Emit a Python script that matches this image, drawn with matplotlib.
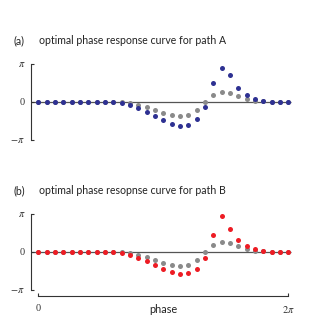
import numpy as np
import matplotlib
matplotlib.use("Agg")
import matplotlib.pyplot as plt

PI = np.pi
n_points = 31
phase = np.linspace(0, 2 * PI, n_points)

# values in units of pi
blue_a = [0, 0, 0, 0, 0, 0, 0, 0, 0, 0,
          -0.026, -0.087, -0.174, -0.26, -0.374, -0.478, -0.583, -0.643, -0.609, -0.461,
          -0.148, 0.496, 0.887, 0.696, 0.374, 0.183, 0.078, 0.026, 0, 0, 0]
red_b = [0, 0, 0, 0, 0, 0, 0, 0, 0, 0,
         -0.026, -0.087, -0.165, -0.235, -0.348, -0.452, -0.548, -0.591, -0.574, -0.452,
         -0.157, 0.435, 0.948, 0.6, 0.304, 0.148, 0.061, 0.017, 0, 0, 0]
gray_ref = [0, 0, 0, 0, 0, 0, 0, 0, 0, 0,
            -0.017, -0.043, -0.087, -0.148, -0.217, -0.287, -0.348, -0.374, -0.348, -0.226,
            -0.017, 0.174, 0.252, 0.226, 0.157, 0.07, 0.026, 0.009, 0, 0, 0]

titles = ["optimal phase response curve for path A", "optimal phase resopnse curve for path B"]
panel_labels = ["(a)", "(b)"]
ytick_labels = [r"$-\pi$", "0", r"$\pi$"]
xtick_labels = ["0", r"$2\pi$"]

BLUE = "#2e3192"
RED = "#ed1c24"
GRAY = "#8a8a8a"
SPINE = "#333333"

plt.rcParams["mathtext.fontset"] = "stix"

fig = plt.figure(figsize=(3.28, 3.28), dpi=100)
W = H = 328.0

def make_ax(top_px, bottom_px):
    left_px = 30.7
    right_px = 292.3
    return fig.add_axes([left_px / W, (H - bottom_px) / H,
                         (right_px - left_px) / W, (bottom_px - top_px) / H])

xlo, xhi = -0.19, 2 * PI + 0.1

axA = make_ax(101.7 - 1.1 * 37.8, 101.7 + 1.1 * 37.8)
axB = make_ax(251.7 - 1.1 * 37.8, 296.0)

for ax, vals, col, (ylo, yhi), bottom in [
    (axA, blue_a, BLUE, (-1.1 * PI, 1.1 * PI), False),
    (axB, red_b, RED, (-1.17 * PI, 1.1 * PI), True),
]:
    ax.set_xlim(xlo, xhi)
    ax.set_ylim(ylo, yhi)
    ax.hlines(0, xlo, 2 * PI + 0.06, color="#555555", lw=0.9, zorder=1)
    ax.plot(phase, np.array(gray_ref) * PI, "o", color=GRAY, ms=3.6, mec="none", zorder=2)
    ax.plot(phase, np.array(vals) * PI, "o", color=col, ms=3.6, mec="none", zorder=3)
    for s in ["top", "right"]:
        ax.spines[s].set_visible(False)
    ax.spines["left"].set_bounds(-PI, PI)
    ax.spines["left"].set_color(SPINE)
    ax.spines["left"].set_linewidth(0.8)
    ax.set_yticks([-PI, 0, PI])
    ax.set_yticklabels(ytick_labels, fontsize=7.5, family="Liberation Serif", color="#333333")
    ax.tick_params(axis="y", direction="in", length=2.4, width=0.8, color=SPINE, pad=4)
    if bottom:
        ax.spines["bottom"].set_bounds(0, 2 * PI)
        ax.spines["bottom"].set_color(SPINE)
        ax.spines["bottom"].set_linewidth(0.8)
        ax.set_xticks([0, 2 * PI])
        ax.set_xticklabels(xtick_labels, fontsize=7.5, family="Liberation Serif", color="#333333")
        ax.tick_params(axis="x", direction="in", length=2.4, width=0.8, color=SPINE, pad=5.5)
        ax.annotate("phase", xy=(PI, 0), xycoords=("data", "axes fraction"),
                    xytext=(0, -5.5), textcoords="offset points",
                    ha="center", va="top", fontsize=7.8, family="Lato", color="#222222")
    else:
        ax.spines["bottom"].set_visible(False)
        ax.set_xticks([])

for i, ypx in enumerate([41.0, 191.0]):
    fig.text(13 / W, 1 - ypx / H, panel_labels[i], fontsize=7.6, family="Lato",
             va="center", ha="left", color="#222222")
    fig.text(39 / W, 1 - ypx / H, titles[i], fontsize=7.6, family="Lato",
             va="center", ha="left", color="#222222")

fig.savefig("out.png", dpi=100)
